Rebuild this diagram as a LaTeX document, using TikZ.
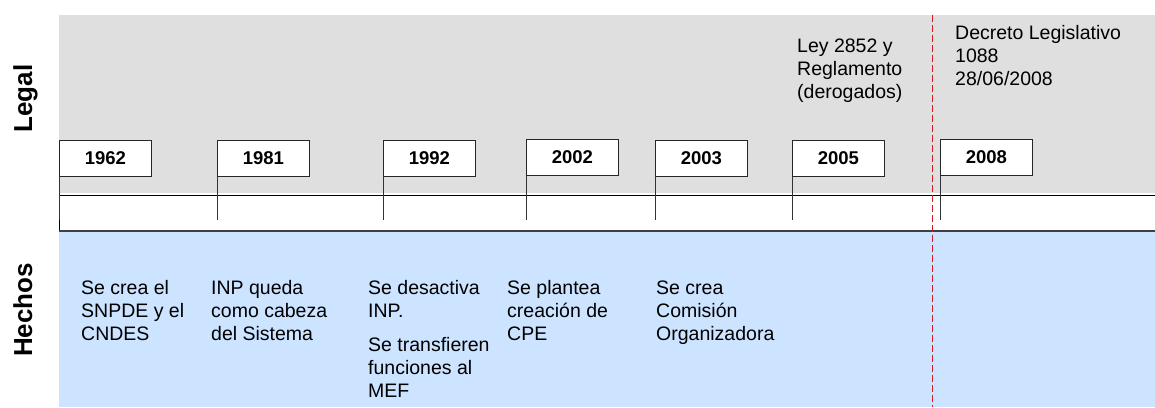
\documentclass[tikz,border=0pt]{standalone}
\usepackage{fontspec}
\setmainfont{Liberation Sans}
\usepackage{tikz, xcolor}

\definecolor{legalgray}{RGB}{223,223,223}
\definecolor{hechosblue}{RGB}{204,228,255}
\definecolor{cutred}{RGB}{215,25,35}

\begin{document}
\begin{tikzpicture}[x=1pt, y=-1pt,
    year/.style={draw=black!85, fill=white, line width=0.8pt, minimum width=92pt, minimum height=36pt, inner sep=0pt, anchor=south west, font=\bfseries\fontsize{18.5}{22}\selectfont},
    pole/.style={draw=black!80, line width=0.8pt},
    event/.style={anchor=north west, align=left, inner sep=0pt, font=\fontsize{19.5}{23}\selectfont},
    side/.style={rotate=90, anchor=base, inner sep=0pt, font=\bfseries\fontsize{26}{30}\selectfont}]

    \useasboundingbox (0,0) rectangle (1155,407);

    % bands
    \fill[legalgray] (59,15) rectangle (1155,193);
    \fill[hechosblue] (59,232) rectangle (1155,407);
    \draw[line width=0.9pt] (1155,195) -- (59,195) -- (59,231);
    \draw[black!75, line width=1.2pt] (59,231) -- (1155,231);

    \node[side] (legal) at (32,98.5) {Legal};
    \node[side] (hechos) at (32,310) {Hechos};

    % flags
    \node[year] (y1962) at (59,177) {1962};
    \node[year] (y1981) at (217,177) {1981};
    \node[year] (y1992) at (383,177) {1992};
    \node[year] (y2002) at (526,176) {2002};
    \node[year] (y2003) at (655,177) {2003};
    \node[year] (y2005) at (792,177) {2005};
    \node[year] (y2008) at (940,176) {2008};

    \coordinate (p1962) at (59,220);
    \coordinate (p1981) at (217,220);
    \coordinate (p1992) at (383,220);
    \coordinate (p2002) at (526,220);
    \coordinate (p2003) at (655,220);
    \coordinate (p2005) at (792,220);
    \coordinate (p2008) at (940,220);

    \draw[pole] (y1962.south west) -- (p1962);
    \draw[pole] (y1981.south west) -- (p1981);
    \draw[pole] (y1992.south west) -- (p1992);
    \draw[pole] (y2002.south west) -- (p2002);
    \draw[pole] (y2003.south west) -- (p2003);
    \draw[pole] (y2005.south west) -- (p2005);
    \draw[pole] (y2008.south west) -- (p2008);

    % legal
    \node[event] (l2005) at (797,36) {\strut Ley 2852 y\\Reglamento\\(derogados)};
    \node[event] (l2008) at (955,23) {\strut Decreto Legislativo\\1088\\28/06/2008};

    % hechos
    \node[event] (h1962) at (81,278) {\strut Se crea el\\SNPDE y el\\CNDES};
    \node[event] (h1981) at (211,278) {\strut INP queda\\como cabeza\\del Sistema};
    \node[event] (h1992) at (368,278) {\strut Se desactiva\\INP.\\[11pt]Se transfieren\\funciones al\\MEF};
    \node[event] (h2002) at (507,278) {\strut Se plantea\\creación de\\CPE};
    \node[event] (h2003) at (656,278) {\strut Se crea\\Comisión\\Organizadora};

    \coordinate (cuttop) at (932,15);
    \coordinate (cutbot) at (932,407);
    \draw[cutred, line width=0.9pt, dash pattern=on 7pt off 3pt] (cuttop) -- (cutbot);

\end{tikzpicture}
\end{document}
